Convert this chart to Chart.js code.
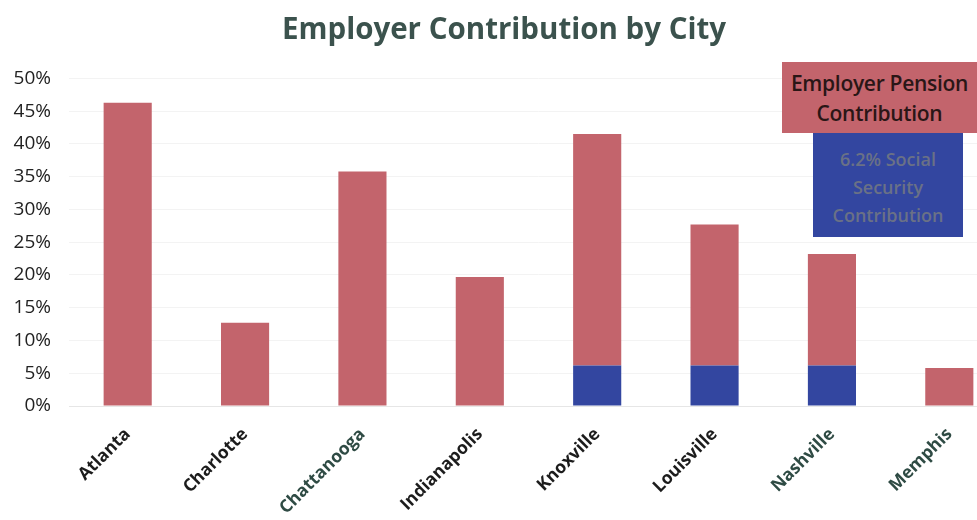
<!DOCTYPE html>
<html>
<head>
<meta charset="utf-8">
<script src="https://cdn.jsdelivr.net/npm/chart.js@4.4.1/dist/chart.umd.min.js"></script>
<style>
  html, body { margin: 0; padding: 0; background: #fff; overflow: hidden; }
  #wrap { position: relative; width: 977px; height: 520px; overflow: hidden; }
  #box { position: absolute; left: 0; top: 0; width: 1052px; height: 520px; }
  .key { position: absolute; box-sizing: border-box; text-align: center; font-family: "Open Sans", sans-serif; }
  #keyPension { left: 782px; top: 62px; width: 205px; height: 71px; background: #c3646c;
    color: #2a1616; font-size: 21px; font-weight: 600; line-height: 30px; padding: 6px 10px 0 0; letter-spacing: -0.3px; }
  #keySocial { left: 813px; top: 133px; width: 150px; height: 104px; background: #3346a0;
    color: #6a7186; font-size: 18px; font-weight: 600; line-height: 28px; padding: 12px 0 0 0; }
</style>
</head>
<body>
<div id="wrap">
  <div id="box"><canvas id="chart"></canvas></div>
  <div class="key" id="keyPension">Employer Pension<br>Contribution</div>
  <div class="key" id="keySocial">6.2% Social<br>Security<br>Contribution</div>
</div>
<script>
// Employer contribution rates (% of payroll) by city
const cities = ["Atlanta", "Charlotte", "Chattanooga", "Indianapolis", "Knoxville", "Louisville", "Nashville", "Memphis"];
const socialSecurity = [0, 0, 0, 0, 6.2, 6.2, 6.2, 0];
const pension = [46.3, 12.7, 35.8, 19.7, 35.3, 21.5, 17.0, 5.8];
const yTicks = [0, 5, 10, 15, 20, 25, 30, 35, 40, 45, 50];

const labelColors = ["#1c1c1c", "#1c1c1c", "#2f4b44", "#1c1c1c", "#1c1c1c", "#1c1c1c", "#2f4b44", "#2f4b44"];

new Chart(document.getElementById("chart"), {
  type: "bar",
  data: {
    labels: cities,
    datasets: [
      { label: "6.2% Social Security Contribution", data: socialSecurity, backgroundColor: "#3346a0",
        borderWidth: 0, categoryPercentage: 1, barPercentage: 0.41 },
      { label: "Employer Pension Contribution", data: pension, backgroundColor: "#c3646c",
        borderWidth: 0, categoryPercentage: 1, barPercentage: 0.41 }
    ]
  },
  options: {
    responsive: true,
    maintainAspectRatio: false,
    animation: false,
    layout: { padding: { left: 0, right: 44, top: 0, bottom: 0 } },
    plugins: {
      legend: { display: false },
      tooltip: { enabled: false },
      title: {
        display: true,
        text: "Employer Contribution by City",
        color: "#3b524d",
        font: { family: "'Open Sans', sans-serif", size: 29.5, weight: "bold" },
        padding: { top: 13, bottom: 30 }
      }
    },
    scales: {
      x: {
        stacked: true,
        grid: { display: false, drawTicks: false },
        border: { display: true, color: "#e6e6e6", width: 1 },
        ticks: {
          color: (ctx) => labelColors[ctx.index],
          font: { family: "'Open Sans', sans-serif", size: 17.5, weight: "bold" },
          minRotation: 45, maxRotation: 45, padding: 18, autoSkip: false
        },
        afterFit: (s) => { s.height = 114; }
      },
      y: {
        stacked: true,
        min: 0, max: 50,
        afterBuildTicks: (s) => { s.ticks = yTicks.map(v => ({ value: v })); },
        afterFit: (s) => { s.width = 69; },
        grid: { color: "#f3f3f3", drawTicks: false },
        border: { display: false },
        ticks: {
          color: "#222",
          padding: 18,
          font: { family: "'Open Sans', sans-serif", size: 19 },
          callback: (v) => v + "%"
        }
      }
    }
  }
});
</script>
</body>
</html>
